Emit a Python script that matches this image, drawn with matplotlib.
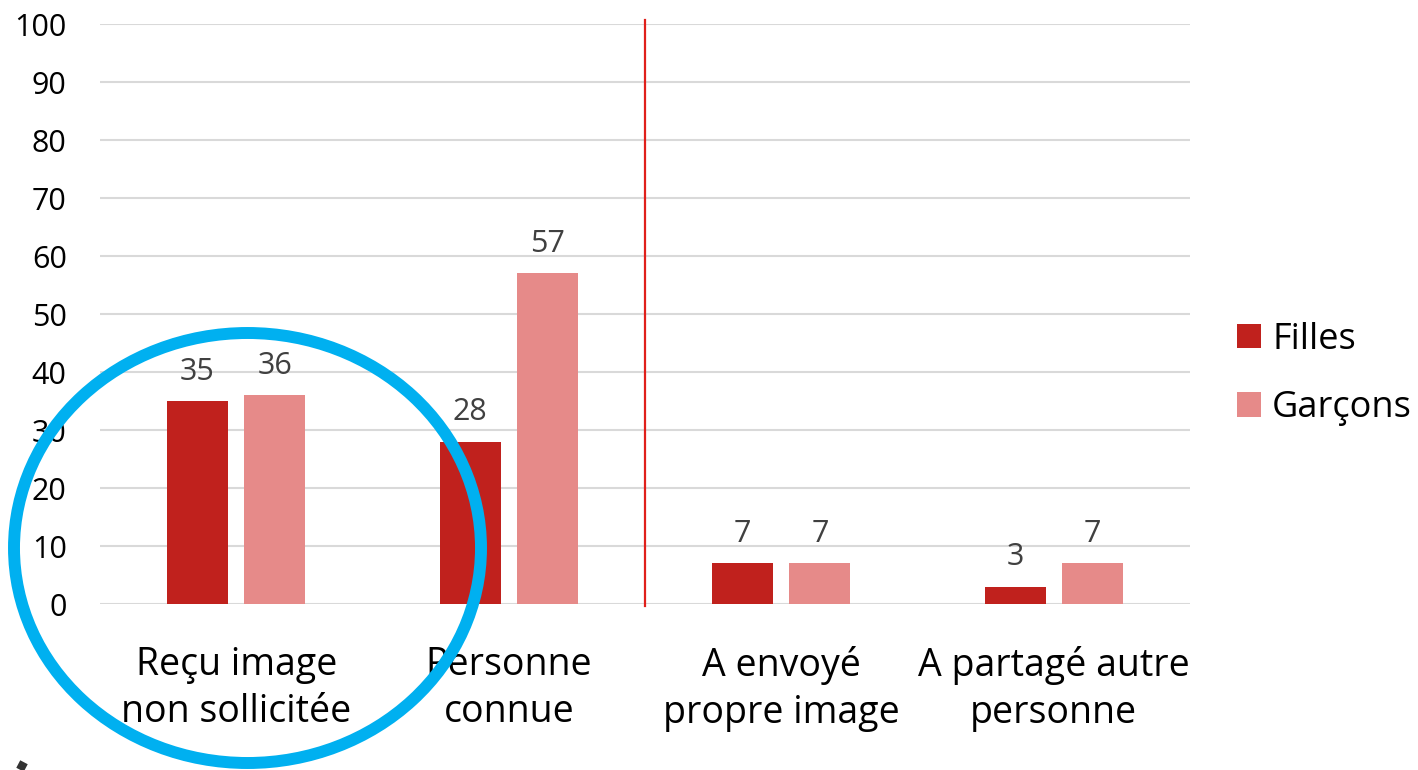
import matplotlib.pyplot as plt
import numpy as np
from matplotlib.patches import Ellipse, RegularPolygon

# data
categories = ['Reçu image\nnon sollicitée', 'Personne\nconnue', 'A envoyé\npropre image', 'A partagé autre\npersonne']
filles = [35, 28, 7, 3]
garcons = [36, 57, 7, 7]
series_names = ['Filles', 'Garçons']
yticks = list(range(0, 101, 10))

plt.rcParams['font.family'] = ['Open Sans', 'DejaVu Sans']

fig = plt.figure(figsize=(14.18, 7.7), dpi=100)
ax = fig.add_axes([100 / 1418, 1 - 604 / 770, 1090 / 1418, 580 / 770])

x = np.arange(len(categories))
w = 0.224
off = 0.142
c_f = '#C0211D'
c_g = '#E68A89'

# gridlines
for t in yticks:
    ax.axhline(t, color='#D9D9D9', lw=1.5, zorder=0)

b1 = ax.bar(x - off, filles, w, color=c_f, label=series_names[0], zorder=2)
b2 = ax.bar(x + off, garcons, w, color=c_g, label=series_names[1], zorder=2)

for bars, vals in [(b1, filles), (b2, garcons)]:
    for b, v in zip(bars, vals):
        ax.text(b.get_x() + b.get_width() / 2, v + 2.5, str(v), ha='center', va='bottom',
                fontsize=22, color='#404040')

# red separator
ax.plot([1.5, 1.5], [-0.4, 100.7], color='#E0201B', lw=1.6, clip_on=False, zorder=3)

ax.set_xlim(-0.5, 3.5)
ax.set_ylim(0, 100)
ax.set_yticks(yticks)
ax.set_yticklabels([str(t) for t in yticks], fontsize=22)
ax.set_xticks(x)
ax.set_xticklabels(categories, fontsize=27, linespacing=1.33)
ax.tick_params(axis='y', length=0, pad=24)
ax.tick_params(axis='x', length=0, pad=30)
for s in ax.spines.values():
    s.set_visible(False)

leg = ax.legend(loc='center left', bbox_to_anchor=(1237 / 1418, 1 - 374 / 770), bbox_transform=fig.transFigure,
                frameon=False, fontsize=26, handlelength=0.67, handleheight=0.67, handletextpad=0.3,
                labelspacing=0.9, borderaxespad=0, borderpad=0)

# blue circle overlay
circ = Ellipse((247.5 / 1418, 1 - 548 / 770), 467 / 1418, 430 / 770, transform=fig.transFigure,
               fill=False, edgecolor='#00B0F0', lw=8.6, zorder=10)
fig.patches.append(circ)

# small dark mark at bottom left (cut by the edge, as in the source)
mark = RegularPolygon((22, 4), numVertices=4, radius=6, orientation=0.3, transform=None,
                      facecolor='#333333', edgecolor='none')
fig.patches.append(mark)

fig.savefig('out.png', dpi=100)
